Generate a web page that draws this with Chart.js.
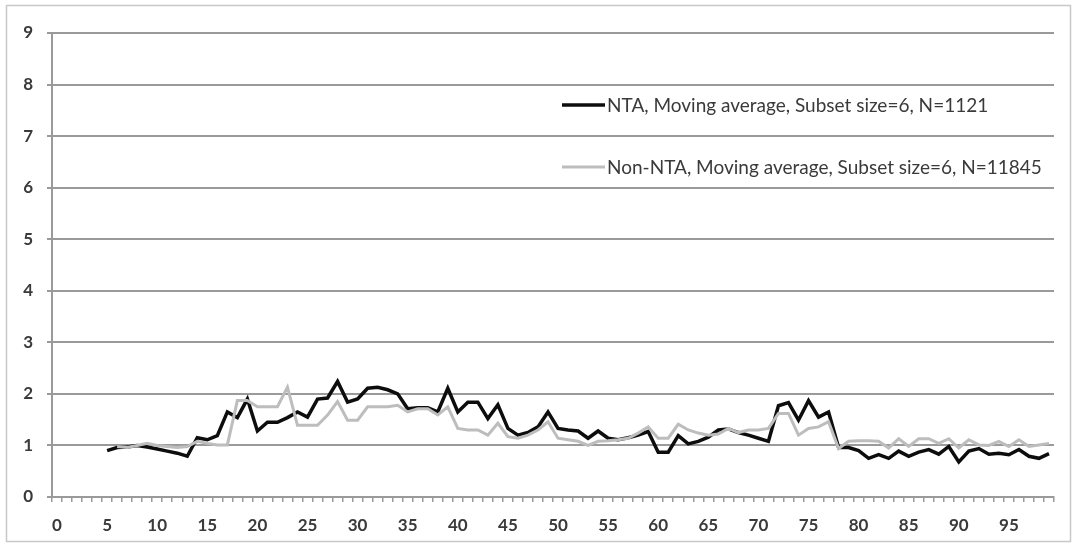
<!DOCTYPE html>
<html>
<head>
<meta charset="utf-8">
<script src="https://cdn.jsdelivr.net/npm/chart.js@4/dist/chart.umd.min.js"></script>
<style>
    html, body { margin: 0; padding: 0; background: #ffffff; }
    #wrap { width: 1073px; height: 544px; }
</style>
</head>
<body>
<div id="wrap"><canvas id="movingAvgChart" width="1073" height="544"></canvas></div>
<script>
const categories = [
    0, 1, 2, 3, 4, 5, 6, 7, 8, 9, 10, 11, 12, 13, 14, 15, 16, 17, 18, 19,
    20, 21, 22, 23, 24, 25, 26, 27, 28, 29, 30, 31, 32, 33, 34, 35, 36, 37, 38, 39,
    40, 41, 42, 43, 44, 45, 46, 47, 48, 49, 50, 51, 52, 53, 54, 55, 56, 57, 58, 59,
    60, 61, 62, 63, 64, 65, 66, 67, 68, 69, 70, 71, 72, 73, 74, 75, 76, 77, 78, 79,
    80, 81, 82, 83, 84, 85, 86, 87, 88, 89, 90, 91, 92, 93, 94, 95, 96, 97, 98, 99
];

// NTA, moving average (black)
const ntaValues = [
    null, null, null, null, null, 0.90, 0.96, 0.97, 1.00, 0.97,
    0.93, 0.89, 0.85, 0.79, 1.15, 1.11, 1.19, 1.65, 1.54, 1.90,
    1.28, 1.45, 1.45, 1.54, 1.65, 1.55, 1.90, 1.92, 2.24, 1.84,
    1.90, 2.11, 2.13, 2.08, 2.00, 1.71, 1.73, 1.73, 1.65, 2.11,
    1.65, 1.84, 1.84, 1.52, 1.79, 1.33, 1.20, 1.25, 1.36, 1.65,
    1.33, 1.30, 1.28, 1.14, 1.28, 1.14, 1.11, 1.15, 1.20, 1.27,
    0.87, 0.87, 1.19, 1.03, 1.08, 1.16, 1.30, 1.32, 1.25, 1.20,
    1.14, 1.08, 1.77, 1.83, 1.49, 1.87, 1.55, 1.65, 0.96, 0.96,
    0.90, 0.75, 0.82, 0.75, 0.89, 0.79, 0.87, 0.92, 0.83, 0.98,
    0.68, 0.89, 0.94, 0.83, 0.85, 0.82, 0.92, 0.79, 0.75, 0.84
];

// Non-NTA, moving average (grey)
const nonNtaValues = [
    null, null, null, null, null, null, 0.98, 0.96, 1.00, 1.04,
    1.00, 0.98, 0.96, 0.98, 1.08, 1.04, 1.01, 1.01, 1.87, 1.87,
    1.75, 1.75, 1.75, 2.13, 1.39, 1.39, 1.39, 1.59, 1.85, 1.49,
    1.49, 1.75, 1.75, 1.75, 1.78, 1.65, 1.71, 1.71, 1.59, 1.75,
    1.33, 1.30, 1.30, 1.20, 1.43, 1.17, 1.14, 1.20, 1.30, 1.46,
    1.14, 1.11, 1.08, 1.00, 1.08, 1.09, 1.11, 1.14, 1.24, 1.36,
    1.14, 1.14, 1.41, 1.30, 1.24, 1.20, 1.22, 1.33, 1.25, 1.30,
    1.30, 1.33, 1.62, 1.62, 1.20, 1.33, 1.36, 1.46, 0.94, 1.08,
    1.09, 1.09, 1.08, 0.95, 1.13, 0.98, 1.13, 1.13, 1.04, 1.13,
    0.95, 1.11, 1.01, 1.00, 1.08, 0.98, 1.11, 0.98, 1.01, 1.04
];

const seriesLabels = [
    'NTA, Moving average, Subset size=6, N=1121',
    'Non-NTA, Moving average, Subset size=6, N=11845'
];

const yTicks = [0, 1, 2, 3, 4, 5, 6, 7, 8, 9];

const AXIS_GREY = '#9a9a9a';
const TEXT_GREY = '#3a3a3a';

// outer frame round the whole chart
const framePlugin = {
    id: 'frame',
    beforeDraw(chart) {
        const ctx = chart.ctx;
        ctx.save();
        ctx.strokeStyle = '#c8c8c8';
        ctx.lineWidth = 1.5;
        ctx.strokeRect(6.5, 5.5, 1064, 536);
        ctx.restore();
    }
};

// legend drawn inside the plot, Excel style
const insideLegend = {
    id: 'insideLegend',
    afterDatasetsDraw(chart) {
        const ctx = chart.ctx;
        const rows = [105, 167];
        ctx.save();
        ctx.font = '19px Lato';
        ctx.textBaseline = 'middle';
        ctx.textAlign = 'left';
        chart.data.datasets.forEach((ds, i) => {
            const y = rows[i];
            ctx.strokeStyle = ds.borderColor;
            ctx.lineWidth = ds.borderWidth;
            ctx.beginPath();
            ctx.moveTo(562, y);
            ctx.lineTo(605, y);
            ctx.stroke();
            ctx.fillStyle = TEXT_GREY;
            ctx.fillText(ds.label, 607, y + 1);
        });
        ctx.restore();
    }
};

const ctx = document.getElementById('movingAvgChart').getContext('2d');

new Chart(ctx, {
    type: 'line',
    data: {
        labels: categories,
        datasets: [{
            label: seriesLabels[0],
            data: ntaValues,
            borderColor: '#0d0d0d',
            borderWidth: 3.5,
            pointRadius: 0,
            tension: 0,
            order: 1
        }, {
            label: seriesLabels[1],
            data: nonNtaValues,
            borderColor: '#bdbdbd',
            borderWidth: 3,
            pointRadius: 0,
            tension: 0,
            order: 0
        }]
    },
    options: {
        responsive: false,
        animation: false,
        layout: {
            padding: { top: 33, right: 19, bottom: 0, left: 0 }
        },
        plugins: {
            legend: { display: false },
            tooltip: { enabled: false }
        },
        scales: {
            x: {
                type: 'category',
                offset: true,
                afterFit: function(scale) { scale.height = 47; },
                border: { color: AXIS_GREY, width: 2 },
                grid: {
                    offset: true,
                    drawOnChartArea: false,
                    drawTicks: true,
                    tickLength: 5,
                    color: AXIS_GREY,
                    lineWidth: 1.5
                },
                ticks: {
                    autoSkip: false,
                    maxRotation: 0,
                    padding: 13,
                    color: TEXT_GREY,
                    font: { family: 'Lato', size: 17, weight: 'bold' },
                    callback: function(value, index) {
                        return index % 5 === 0 ? String(categories[index]) : '';
                    }
                }
            },
            y: {
                min: 0,
                max: 9,
                afterFit: function(scale) { scale.width = 52; },
                afterBuildTicks: function(scale) {
                    scale.ticks = yTicks.map(v => ({ value: v }));
                },
                border: { color: AXIS_GREY, width: 2 },
                grid: {
                    color: AXIS_GREY,
                    lineWidth: 2,
                    tickLength: 5
                },
                ticks: {
                    padding: 14,
                    color: TEXT_GREY,
                    font: { family: 'Lato', size: 17, weight: 'bold' }
                }
            }
        }
    },
    plugins: [framePlugin, insideLegend]
});
</script>
</body>
</html>
